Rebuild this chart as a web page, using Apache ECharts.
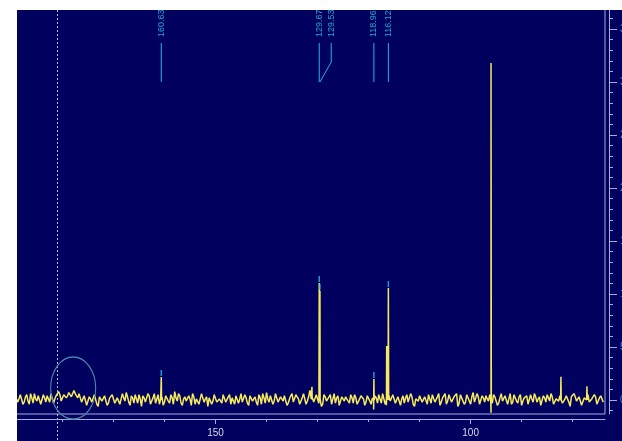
<!DOCTYPE html>
<html>
<head>
<meta charset="utf-8">
<script src="https://cdn.jsdelivr.net/npm/echarts@6/dist/echarts.min.js"></script>
<style>
html, body { margin: 0; padding: 0; background: #fff; }
#chart { position: absolute; left: 17px; top: 10px; width: 605px; height: 431px; }
</style>
</head>
<body>
<div id="chart"></div>
<script>
// baseline of the spectrum, ppm 189 -> 74 in steps of 0.5
var baseStart = 189;
var baseStep = -0.5;
var baseNoise = [
    0.1, -0.3, 0.4, -0.2, 0.5, -0.4, 0.2, 0.6, -0.1, 0.3, -0.5, 0.2, 0.4, -0.2, 0.7, 0.1, 0.3, 0.5, 0.2, 0.6,
    0.4, 0.8, 0.3, 0.6, 0.2, 0.5, -0.1, 0.3, -0.4, 0.1, -0.3, 0.4, -0.6, 0.2, -0.2, 0.5, -0.3, 0.1, 0.6, -0.4,
    0.3, -0.5, 0.2, 0.7, -0.2, 0.4, -0.3, 0.1, 0.5, -0.6, 0.2, -0.1, 0.4, -0.3, 0.6, 0.1, -0.4, 0.3, -0.2, 0.5,
    -0.3, 0.2, 0.8, -0.1, 0.4, -0.5, 0.3, -0.2, 0.1, 0.6, -0.4, 0.2, -0.3, 0.5, 0.1, -0.6, 0.3, -0.1, 0.4, -0.3,
    0.2, 0.5, -0.2, 0.3, -0.4, 0.1, 0.4, -0.3, 0.6, -0.1, 0.2, -0.5, 0.3, 0.1, -0.2, 0.5, -0.4, 0.2, 0.7, -0.2,
    0.3, -0.1, 0.5, -0.3, 0.2, 0.4, -0.5, 0.1, 0.6, -0.2, 0.3, -0.4, 0.2, 0.5, -0.1, 0.9, 0.2, -0.3, 0.4, 0.1,
    -0.4, 0.3, -0.2, 0.5, 0.1, -0.3, 0.4, -0.6, 0.2, 0.3, -0.1, 0.5, -0.3, 0.2, -0.5, 0.4, 0.1, -0.2, 0.3, -0.4,
    -0.9, 0.2, 0.5, -0.3, 0.1, -0.5, 0.4, -0.2, 0.6, -0.4, 0.2, 0.1, -0.3, 0.5, -0.1, 0.3, -0.6, 0.2, 0.4, -0.2,
    0.3, -0.4, 0.1, 0.5, -0.2, 0.3, -0.5, 0.2, 0.6, -0.1, 0.4, -0.3, 0.2, -0.6, 0.5, 0.1, -0.2, 0.4, -0.4, 0.7,
    -0.2, 0.3, -0.5, 0.2, 0.4, -0.1, -1.2, 0.5, 0.2, -0.3, 0.6, -0.2, 0.3, 0.1, -0.4, 0.5, -0.1, 0.3, -0.5, 0.2,
    0.4, -0.3, 0.1, 0.6, -0.2, 0.3, -0.4, 0.2, 0.5, -0.1, 0.3, -0.5, 0.2, 0.4, -0.3, 0.1, 0.5, -0.6, 0.2, 0.3,
    -0.2, 0.4, -0.4, 0.1, 0.5, -0.3, 0.2, 0.3, -0.1, 0.4, -0.2
];
// in-between points, ppm 188.75 -> 74.25
var midStart = 188.75;
var midNoise = [
    -0.2, 0.5, -0.4, 0.3, -0.1, 0.6, -0.3, 0.1, 0.4, -0.4, 0.5, -0.2, 0.1, 0.6, -0.3, 0.4, 0.8, -0.1, 0.5, 0.2,
    0.7, 0.3, 0.9, 0.4, 0.6, -0.2, 0.4, -0.5, 0.3, -0.2, 0.5, -0.4, 0.3, -0.1, 0.4, -0.5, 0.2, 0.5, -0.3, 0.2,
    -0.4, 0.6, -0.1, 0.3, -0.5, 0.2, 0.5, -0.3, 0.1, 0.4, -0.2, 0.6, -0.4, 0.2, -0.3, 0.5, 0.1, -0.5, 0.4, -0.1,
    0.5, -0.4, 0.2, 0.6, -0.3, 0.1, -0.1, 0.4, -0.5, 0.3, 0.1, -0.4, 0.6, -0.2, 0.3, 0.2, -0.4, 0.5, -0.2, 0.1,
    -0.3, 0.4, -0.1, 0.5, 0.2, -0.4, 0.3, 0.1, -0.2, 0.5, -0.3, 0.4, -0.1, 0.3, -0.5, 0.2, 0.6, -0.3, 0.1, 0.4,
    -0.4, 0.6, -0.2, 0.3, -0.1, 0.5, -0.3, 0.4, -0.2, 0.5, 0.1, -0.3, 0.6, -0.4, 0.3, 0.1, -0.2, 0.5, -0.3, -0.6,
    0.5, -0.1, 0.3, -0.4, 0.6, 0.2, -0.5, 0.3, -0.1, 0.4, -0.3, 0.2, 0.5, -0.4, 0.1, 0.3, -0.5, 0.4, -0.1, 0.2,
    0.4, -0.3, 0.1, 0.6, -0.4, 0.2, -0.1, 0.5, -0.3, 0.3, -0.5, 0.4, 0.2, -0.2, 0.6, -0.4, 0.1, -0.1, 0.5, -0.3,
    0.2, 0.5, -0.3, 0.4, -0.1, 0.6, -0.2, 0.1, -0.4, 0.5, -0.2, 0.3, 0.6, -0.3, 0.2, -0.4, 0.5, -0.1, 0.3, -0.2,
    0.6, -0.4, 0.4, -0.2, 0.1, 0.5, -0.3, 0.3, -0.5, 0.2, -0.1, 0.4, -0.4, 0.6, -0.2, 0.2, -0.3, 0.5, -0.1, 0.3,
    -0.4, 0.5, -0.2, 0.3, 0.1, -0.5, 0.4, -0.2, 0.2, 0.6, -0.4, 0.1, -0.1, 0.5, -0.3, 0.4, -0.2, 0.3, 0.6, -0.1,
    0.3, -0.5, 0.2, 0.4, -0.2, 0.1, 0.5, -0.4, 0.2, 0.3
];

// peaks (ppm, height)
var peakPpm = [160.63, 131.1, 129.67, 129.53, 118.96, 116.45, 116.12, 96.0, 82.3, 77.2];
var peakHeight = [2.17, 1.25, 11.04, 10.3, 1.98, 5.1, 10.57, 31.8, 2.2, 1.3];

// picked peaks with labels
var labelPpm = [160.63, 129.67, 129.53, 118.96, 116.12];
var labelHeight = [2.17, 11.04, 10.3, 1.98, 10.57];

var xMajorTicks = [150, 100];
var xMinorTicks = [180, 170, 160, 140, 130, 120, 110, 90, 80];
var yMajorTicks = [0, 5, 10, 15, 20, 25, 30, 35];
var yMinorTicks = [-1, 0, 1, 2, 3, 4, 5, 6, 7, 8, 9, 10, 11, 12, 13, 14, 15, 16, 17, 18,
    19, 20, 21, 22, 23, 24, 25, 26, 27, 28, 29, 30, 31, 32, 33, 34, 35, 36];

var cursorPpm = 181.1;
var circleCenter = [177.9, 1.13];

// spectrum points
var spectrum = baseNoise.map(function (v, i) {
    return [baseStart + i * baseStep, v];
});
midNoise.forEach(function (v, i) {
    spectrum.push([midStart + i * baseStep, v]);
});
peakPpm.forEach(function (p, i) {
    spectrum.push([p + 0.06, 0]);
    spectrum.push([p, peakHeight[i]]);
    spectrum.push([p - 0.06, 0]);
});
spectrum.sort(function (a, b) { return b[0] - a[0]; });

var axisColor = '#a8acd8';
var xMin = 73.66, xMax = 189.3;
var yMin = -1.32, yMax = 36.98;

function xAxisBase(ticks, len, showLine, showLabel) {
    return {
        type: 'value', inverse: true, min: xMin, max: xMax,
        position: 'bottom', offset: 5,
        axisLine: { show: showLine, onZero: false, lineStyle: { color: axisColor, width: 1 } },
        axisTick: { customValues: ticks, length: len, lineStyle: { color: axisColor } },
        axisLabel: {
            show: showLabel, customValues: ticks, color: '#d8d8f0', fontSize: 10,
            fontFamily: 'Liberation Sans', margin: 9
        },
        splitLine: { show: false }
    };
}
function yAxisBase(ticks, len, showLine, showLabel) {
    return {
        type: 'value', min: yMin, max: yMax,
        position: 'right', offset: 4,
        axisLine: { show: showLine, onZero: false, lineStyle: { color: axisColor, width: 1 } },
        axisTick: { customValues: ticks, length: len, lineStyle: { color: axisColor } },
        axisLabel: {
            show: showLabel, customValues: ticks, color: '#4f80d8', fontSize: 10,
            fontFamily: 'Liberation Sans', margin: 11
        },
        splitLine: { show: false }
    };
}

var chart = echarts.init(document.getElementById('chart'));
var option = {
    animation: false,
    backgroundColor: '#00005e',
    grid: {
        left: -2, right: 17, top: -2, bottom: 27,
        outerBoundsMode: 'none',
        containLabel: false,
        show: true, borderColor: axisColor, borderWidth: 1, backgroundColor: 'transparent'
    },
    xAxis: [
        xAxisBase(xMajorTicks, 5, true, true),
        xAxisBase(xMinorTicks, 3, false, false)
    ],
    yAxis: [
        yAxisBase(yMajorTicks, 8, true, true),
        yAxisBase(yMinorTicks, 4, false, false)
    ],
    series: [
        {
            name: 'spectrum',
            type: 'line',
            data: spectrum,
            showSymbol: false,
            silent: true,
            lineStyle: { color: '#f6ea5c', width: 1.5 },
            z: 3
        },
        {
            // peak pick marks
            type: 'scatter',
            data: labelPpm.map(function (p, i) { return [p, labelHeight[i]]; }),
            symbol: 'rect',
            symbolSize: [1.5, 6],
            symbolOffset: [0, -4],
            itemStyle: { color: '#22c0e8' },
            silent: true,
            z: 4
        },
        {
            // labels at the top with leader lines
            type: 'custom',
            data: labelPpm.map(function (p) { return [p, 0]; }),
            silent: true,
            z: 5,
            renderItem: function (params, api) {
                var xs = [];
                var prev = -1e9;
                labelPpm.forEach(function (p) {
                    var px = api.coord([p, 0])[0];
                    var lx = Math.max(px, prev + 12);
                    xs.push([px, lx]);
                    prev = lx;
                });
                var px = xs[params.dataIndex][0];
                var lx = xs[params.dataIndex][1];
                var pts = Math.abs(lx - px) > 0.5
                    ? [[lx, 33], [lx, 52], [px, 72]]
                    : [[px, 33], [px, 72]];
                return {
                    type: 'group',
                    children: [
                        {
                            type: 'text',
                            x: lx, y: 27, rotation: Math.PI / 2,
                            style: {
                                text: labelPpm[params.dataIndex].toFixed(2),
                                fill: '#20a8d4', fontSize: 9, fontFamily: 'Liberation Sans',
                                align: 'left', verticalAlign: 'middle'
                            }
                        },
                        {
                            type: 'polyline',
                            shape: { points: pts },
                            style: { stroke: '#20b8e0', lineWidth: 1, fill: null }
                        }
                    ]
                };
            }
        },
        {
            // cursor line
            type: 'custom',
            data: [[cursorPpm, 0]],
            silent: true,
            z: 1,
            renderItem: function (params, api) {
                var x = Math.round(api.coord([api.value(0), 0])[0]) + 0.5;
                return {
                    type: 'line',
                    shape: { x1: x, y1: 0, x2: x, y2: api.getHeight() },
                    style: { stroke: '#b8b8d8', lineWidth: 1, lineDash: [2, 2] }
                };
            }
        },
        {
            // region circle
            type: 'custom',
            data: [circleCenter],
            silent: true,
            z: 6,
            renderItem: function (params, api) {
                var c = api.coord([api.value(0), api.value(1)]);
                return {
                    type: 'circle',
                    x: c[0], y: c[1], scaleX: 22.5 / 31,
                    shape: { cx: 0, cy: 0, r: 31 },
                    style: { stroke: '#4a80aa', lineWidth: 1.5, fill: null }
                };
            }
        }
    ]
};
chart.setOption(option);
</script>
</body>
</html>
